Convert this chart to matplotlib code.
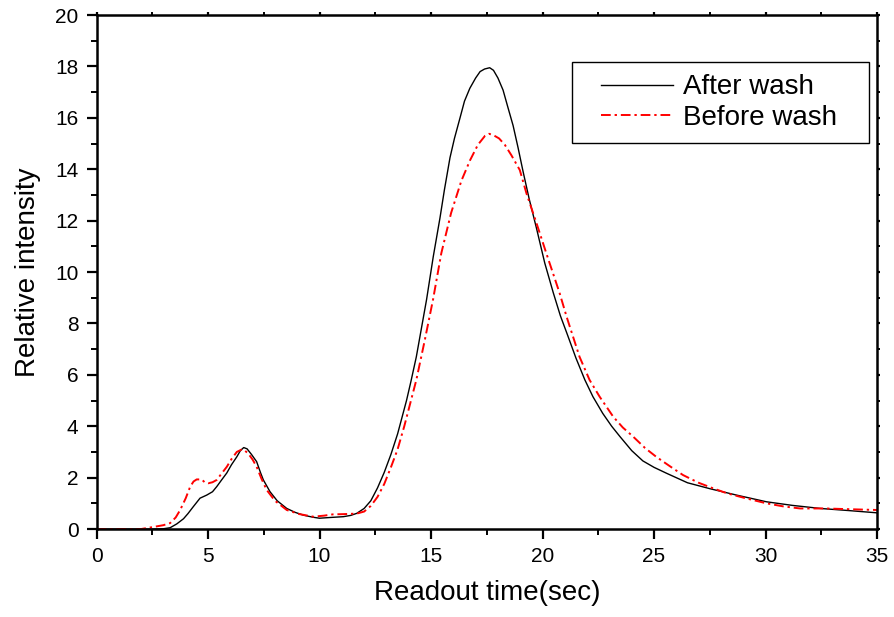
import matplotlib
matplotlib.use("Agg")
import matplotlib.pyplot as plt
from matplotlib.patches import Rectangle
from matplotlib.ticker import MultipleLocator

plt.rcParams["font.family"] = ["Liberation Sans", "DejaVu Sans"]

# After wash (black solid)
after_x = [0, 1, 2, 2.5, 3.0, 3.3, 3.6, 3.9, 4.1, 4.33, 4.64, 4.94, 5.2, 5.39, 5.6,
           5.84, 6.05, 6.29, 6.45, 6.6, 6.75, 6.95, 7.18, 7.35, 7.48, 7.78, 8.1,
           8.53, 8.9, 9.27, 9.7, 10.0, 10.5, 11.07, 11.4, 11.67, 12.0, 12.3, 12.6,
           12.9, 13.2, 13.5, 13.9, 14.1, 14.34, 14.8, 15.1, 15.4, 15.6, 15.85, 16.05,
           16.3, 16.5, 16.74, 17.0, 17.2, 17.4, 17.63, 17.8, 18.0, 18.23, 18.45,
           18.68, 18.9, 19.13, 19.4, 19.73, 20.1, 20.48, 20.8, 21.1, 21.5, 21.9,
           22.26, 22.7, 23.1, 23.47, 24.0, 24.5, 25.0, 25.56, 26.5, 27.5, 28.7,
           30.04, 31.2, 32.46, 33.7, 35]
after_y = [0, 0, 0, 0, 0.01, 0.05, 0.2, 0.4, 0.6, 0.86, 1.2, 1.32, 1.45, 1.65, 1.9,
           2.18, 2.5, 2.81, 3.05, 3.17, 3.12, 2.9, 2.62, 2.2, 1.91, 1.45, 1.1,
           0.8, 0.65, 0.54, 0.46, 0.42, 0.45, 0.48, 0.53, 0.61, 0.8, 1.1, 1.6,
           2.2, 2.9, 3.7, 5.0, 5.75, 6.7, 8.93, 10.6, 12.1, 13.2, 14.45, 15.2,
           16.0, 16.65, 17.15, 17.55, 17.8, 17.9, 17.95, 17.85, 17.55, 17.08, 16.4,
           15.7, 14.85, 13.9, 12.85, 11.7, 10.35, 9.2, 8.3, 7.6, 6.65, 5.8,
           5.15, 4.5, 4.0, 3.6, 3.05, 2.65, 2.4, 2.17, 1.8, 1.57, 1.32,
           1.06, 0.92, 0.8, 0.72, 0.63]

# Before wash (red dash-dot)
before_x = [0, 1, 2, 2.55, 3.0, 3.3, 3.55, 3.75, 4.0, 4.2, 4.35, 4.49, 4.71, 4.85,
            5.01, 5.2, 5.39, 5.6, 5.84, 6.05, 6.29, 6.52, 6.65, 6.8, 7.0, 7.18,
            7.4, 7.63, 8.0, 8.53, 9.1, 9.72, 10.2, 10.6, 11.1, 11.67, 12.0, 12.3,
            12.6, 12.9, 13.2, 13.5, 13.8, 14.1, 14.34, 14.72, 15.09, 15.46, 15.9,
            16.36, 16.75, 17.1, 17.42, 17.6, 17.79, 18.05, 18.31, 18.6, 18.98,
            19.28, 19.73, 20.17, 20.77, 21.08, 21.66, 22.11, 22.56, 23.17, 23.6,
            24.07, 24.6, 25.1, 25.7, 26.3, 27.0, 27.6, 28.27, 29.1, 30.04, 30.8, 31.55,
            32.7, 33.8, 35]
before_y = [0, 0, 0, 0.08, 0.15, 0.23, 0.45, 0.74, 1.2, 1.65, 1.85, 1.93, 1.93, 1.82,
            1.78, 1.82, 1.91, 2.15, 2.42, 2.72, 3.0, 3.1, 3.05, 2.94, 2.7, 2.42,
            1.95, 1.52, 1.1, 0.74, 0.58, 0.48, 0.52, 0.57, 0.58, 0.6, 0.68, 0.9,
            1.25, 1.75, 2.4, 3.1, 4.0, 5.0, 5.8, 7.35, 8.93, 10.73, 12.3,
            13.55, 14.35, 14.95, 15.3, 15.38, 15.33, 15.2, 14.95, 14.55, 13.97,
            13.06, 11.9, 10.73, 9.17, 8.26, 6.7, 5.8, 5.15, 4.37, 3.95,
            3.59, 3.15, 2.81, 2.45, 2.1, 1.8, 1.6, 1.39, 1.2, 1.0, 0.88, 0.8,
            0.8, 0.77, 0.74]

fig = plt.figure(figsize=(8.94, 6.17), dpi=100)
ax = fig.add_axes([0.108, 0.1426, 0.873, 0.833])

ax.plot(after_x, after_y, color="black", linewidth=1.0, label="After wash")
ax.plot(before_x, before_y, color="red", linewidth=1.4,
        linestyle=(0, (5, 2, 1.2, 2)), label="Before wash")

ax.set_xlim(0, 35)
ax.set_ylim(0, 20)
ax.xaxis.set_major_locator(MultipleLocator(5))
ax.xaxis.set_minor_locator(MultipleLocator(2.5))
ax.yaxis.set_major_locator(MultipleLocator(2))
ax.yaxis.set_minor_locator(MultipleLocator(1))

for spine in ax.spines.values():
    spine.set_linewidth(1.8)

ax.tick_params(which="major", direction="out", length=7, width=1.6,
               labelsize=15, pad=6)
ax.tick_params(which="minor", direction="out", length=4, width=1.4)
ax.tick_params(which="both", top=True, right=True,
               labeltop=False, labelright=False)
# short ticks on the top and right frame
for t in (ax.xaxis.get_ticklines(minor=False)[1::2]
          + ax.yaxis.get_ticklines(minor=False)[1::2]
          + ax.xaxis.get_ticklines(minor=True)[1::2]
          + ax.yaxis.get_ticklines(minor=True)[1::2]):
    t.set_markersize(2)

ax.set_xlabel("Readout time(sec)", fontsize=20, labelpad=10)
ax.set_ylabel("Relative intensity", fontsize=20, labelpad=10)

# legend frame
ax.add_patch(Rectangle((0.609, 0.751), 0.381, 0.158, transform=ax.transAxes,
                       facecolor="white", edgecolor="black", linewidth=1.0,
                       zorder=5))
leg = ax.legend(loc="center left", bbox_to_anchor=(0.646, 0.83),
                borderaxespad=0, fontsize=20, handlelength=2.6,
                handletextpad=0.35, borderpad=0, labelspacing=0.15,
                frameon=False)
leg.set_zorder(6)

fig.savefig("out.png", dpi=100)
